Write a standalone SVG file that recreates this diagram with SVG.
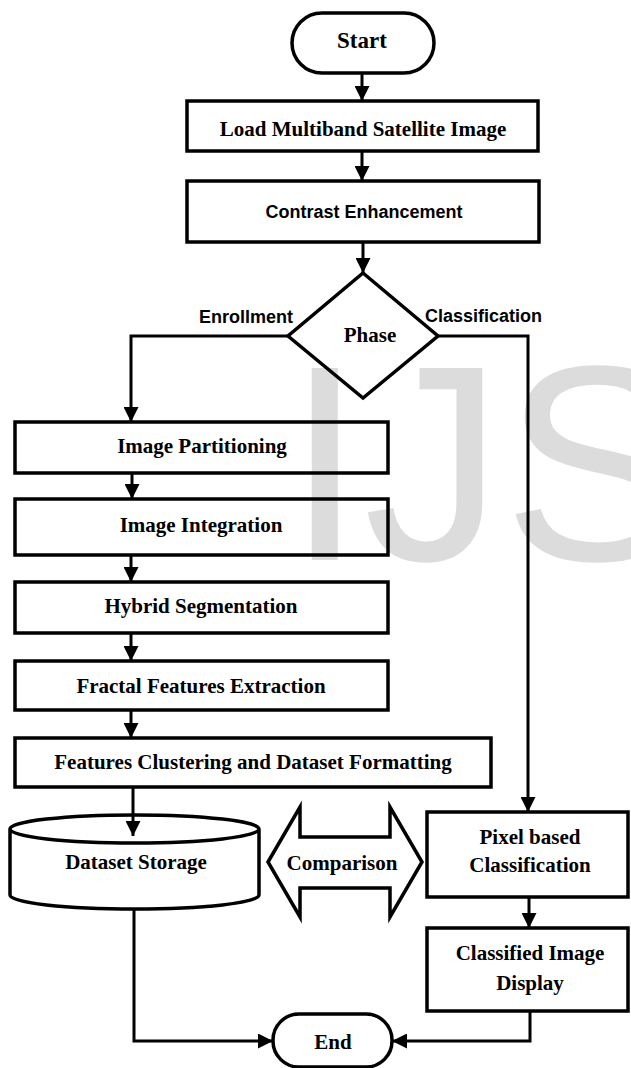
<svg xmlns="http://www.w3.org/2000/svg" width="631" height="1068" viewBox="0 0 631 1068">
<style>
.box{fill:none;stroke:#000;stroke-width:3.5}
.ln{fill:none;stroke:#000;stroke-width:3}
.t{font-family:"Liberation Serif","Times New Roman",serif;font-weight:bold;font-size:21px;fill:#000;text-anchor:middle}
.s{font-family:"Liberation Sans",Arial,sans-serif;font-weight:bold;font-size:18px;fill:#000}
.wm{font-family:"Liberation Sans",Arial,sans-serif;font-size:279px;fill:#dcdcdc}
</style>
<defs>
<marker id="ah" markerUnits="userSpaceOnUse" markerWidth="15" markerHeight="15" refX="15" refY="7.5" orient="auto">
<path d="M0,0 L15,7.5 L0,15 Z" fill="#000"/>
</marker>
</defs>
<rect width="631" height="1068" fill="#fff"/>
<text class="wm" x="286" y="560">IJS</text>

<g id="connectors">
<line class="ln" x1="362" y1="73" x2="362" y2="101" marker-end="url(#ah)"/>
<line class="ln" x1="362" y1="151" x2="362" y2="181" marker-end="url(#ah)"/>
<line class="ln" x1="363" y1="242" x2="363" y2="273" marker-end="url(#ah)"/>
<polyline class="ln" points="288,336 131,336 131,422" marker-end="url(#ah)"/>
<polyline class="ln" points="438,336 528,336 528,812" marker-end="url(#ah)"/>
<line class="ln" x1="132" y1="473" x2="132" y2="499" marker-end="url(#ah)"/>
<line class="ln" x1="131" y1="555" x2="131" y2="582" marker-end="url(#ah)"/>
<line class="ln" x1="131" y1="633" x2="131" y2="661" marker-end="url(#ah)"/>
<line class="ln" x1="131" y1="710" x2="131" y2="738" marker-end="url(#ah)"/>
<line class="ln" x1="133" y1="787" x2="133" y2="836" marker-end="url(#ah)"/>
<line class="ln" x1="529" y1="897" x2="529" y2="928" marker-end="url(#ah)"/>
<polyline class="ln" points="134,909 134,1041 273,1041" marker-end="url(#ah)"/>
<polyline class="ln" points="530,1011 530,1041 392,1041" marker-end="url(#ah)"/>
</g>

<g id="start">
<rect class="box" x="292" y="13" width="142" height="60" rx="30"/>
<text class="t" x="362" y="48" style="font-size:23px">Start</text>
</g>
<g id="load">
<rect class="box" x="187" y="101" width="351" height="50"/>
<text class="t" x="363" y="136">Load Multiband Satellite Image</text>
</g>
<g id="contrast">
<rect class="box" x="187" y="181" width="352" height="61"/>
<text class="s" x="364" y="218" text-anchor="middle">Contrast Enhancement</text>
</g>
<g id="phase">
<polygon class="box" points="363,273 438,336 363,398 288,336"/>
<text class="t" x="370" y="342">Phase</text>
</g>
<g id="labels">
<text class="s" x="199" y="323">Enrollment</text>
<text class="s" x="425" y="322">Classification</text>
</g>
<g id="partitioning">
<rect class="box" x="15" y="422" width="373" height="51"/>
<text class="t" x="202" y="453">Image Partitioning</text>
</g>
<g id="integration">
<rect class="box" x="15" y="499" width="373" height="56"/>
<text class="t" x="201" y="532">Image Integration</text>
</g>
<g id="hybrid">
<rect class="box" x="15" y="582" width="373" height="51"/>
<text class="t" x="201" y="613">Hybrid Segmentation</text>
</g>
<g id="fractal">
<rect class="box" x="15" y="661" width="373" height="49"/>
<text class="t" x="201" y="693">Fractal Features Extraction</text>
</g>
<g id="clustering">
<rect class="box" x="15" y="738" width="476" height="49"/>
<text class="t" x="253" y="769">Features Clustering and Dataset Formatting</text>
</g>
<g id="storage">
<path class="box" d="M10,829 A124.5,14 0 0,1 259,829 L259,895 A124.5,14 0 0,1 10,895 Z M10,829 A124.5,14 0 0,0 259,829"/>
<text class="t" x="136" y="869">Dataset Storage</text>
</g>
<g id="comparison">
<polygon class="box" points="268,862 300,807 300,837 390,837 390,807 422,862 390,917 390,888 300,888 300,917"/>
<text class="t" x="342" y="870">Comparison</text>
</g>
<g id="pixel">
<rect class="box" x="427" y="812" width="201" height="85"/>
<text class="t" x="530" y="844">Pixel based</text>
<text class="t" x="530" y="872">Classification</text>
</g>
<g id="classified">
<rect class="box" x="427" y="928" width="201" height="83"/>
<text class="t" x="530" y="960">Classified Image</text>
<text class="t" x="530" y="990">Display</text>
</g>
<g id="end">
<rect class="box" x="273" y="1014" width="119" height="53" rx="26"/>
<text class="t" x="333" y="1049">End</text>
</g>
</svg>
